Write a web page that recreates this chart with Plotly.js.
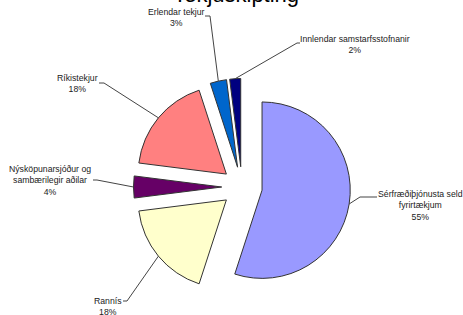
<!DOCTYPE html>
<html>
<head>
<meta charset="utf-8">
<script src="https://cdn.plot.ly/plotly-3.0.1.min.js"></script>
<style>html,body{margin:0;padding:0;background:#fff}#chart{width:463px;height:315px}</style>
</head>
<body>
<div id="chart"></div>
<script>
// ---- data ----
var categories = [
  "Sérfræðiþjónusta seld fyrirtækjum",
  "Rannís",
  "Nýsköpunarsjóður og sambærilegir aðilar",
  "Ríkistekjur",
  "Erlendar tekjur",
  "Innlendar samstarfsstofnanir"
];
var values = [55, 18, 4, 18, 3, 2];
var labelTexts = [
  "Sérfræðiþjónusta seld<br>fyrirtækjum<br>55%",
  "Rannís<br>18%",
  "Nýsköpunarsjóður og<br>sambærilegir aðilar<br>4%",
  "Ríkistekjur<br>18%",
  "Erlendar tekjur<br>3%",
  "Innlendar samstarfsstofnanir<br>2%"
];
var titleText = "Tekjuskipting";

// ---- style / layout ----
var colors = ["#9999FF", "#FFFFCC", "#660066", "#FF8080", "#0066CC", "#000080"];
var W = 463, H = 315;
var centerPx = [242, 187], boxHalf = 108.5;
var pull = 0.23;
// label placement: text centre, knee of the leader line, line start near text (pixels)
var labelPos = [
  {tx: 420, ty: 205.5, knee: [360, 197], start: [377, 197]},
  {tx: 108, ty: 306,   knee: [127, 301], start: [123, 301]},
  {tx: 50,  ty: 180,   knee: [97, 180],  start: [93, 180]},
  {tx: 77,  ty: 83.5,  knee: [104, 83],  start: [99, 83]},
  {tx: 176, ty: 17,    knee: [210, 16],  start: [205, 16]},
  {tx: 355, ty: 45,    knee: [297, 43],  start: [300, 43]}
];

var domX = [(centerPx[0] - boxHalf) / W, (centerPx[0] + boxHalf) / W];
var domY = [1 - (centerPx[1] + boxHalf) / H, 1 - (centerPx[1] - boxHalf) / H];

function px2paper(p) { return [p[0] / W, 1 - p[1] / H]; }

var total = values.reduce(function (a, b) { return a + b; }, 0);
var shapes = [], annotations = [];
var cum = 0;
for (var i = 0; i < values.length; i++) {
  var mid = (cum + values[i] / 2) / total * 2 * Math.PI;
  cum += values[i];
  var anchor = [centerPx[0] + boxHalf * Math.sin(mid), centerPx[1] - boxHalf * Math.cos(mid)];
  var lp = labelPos[i];
  var a = px2paper(anchor), k = px2paper(lp.knee), s = px2paper(lp.start);
  shapes.push({
    type: "path", xref: "paper", yref: "paper",
    path: "M" + a[0] + "," + a[1] + " L" + k[0] + "," + k[1] + " L" + s[0] + "," + s[1],
    line: {color: "#444", width: 1}
  });
  var t = px2paper([lp.tx, lp.ty]);
  annotations.push({
    xref: "paper", yref: "paper", x: t[0], y: t[1],
    xanchor: "center", yanchor: "middle", align: "center",
    showarrow: false, text: labelTexts[i],
    font: {family: "Liberation Sans, Arial, sans-serif", size: 8.7, color: "#222"}
  });
}

var trace = {
  type: "pie",
  labels: categories,
  values: values,
  sort: false,
  direction: "clockwise",
  rotation: 0,
  pull: values.map(function () { return pull; }),
  marker: {colors: colors, line: {color: "#333", width: 1}},
  textinfo: "none",
  hoverinfo: "none",
  domain: {x: domX, y: domY}
};

var layout = {
  width: W, height: H,
  margin: {l: 0, r: 0, t: 0, b: 0},
  paper_bgcolor: "#fff",
  showlegend: false,
  title: {
    text: titleText,
    font: {family: "Liberation Sans, Arial, sans-serif", size: 22, color: "#000"},
    x: 0.51, xanchor: "center", xref: "paper",
    y: 0.995, yanchor: "bottom", yref: "container"
  },
  shapes: shapes,
  annotations: annotations
};

Plotly.newPlot("chart", [trace], layout, {staticPlot: true, displayModeBar: false});
</script>
</body>
</html>
